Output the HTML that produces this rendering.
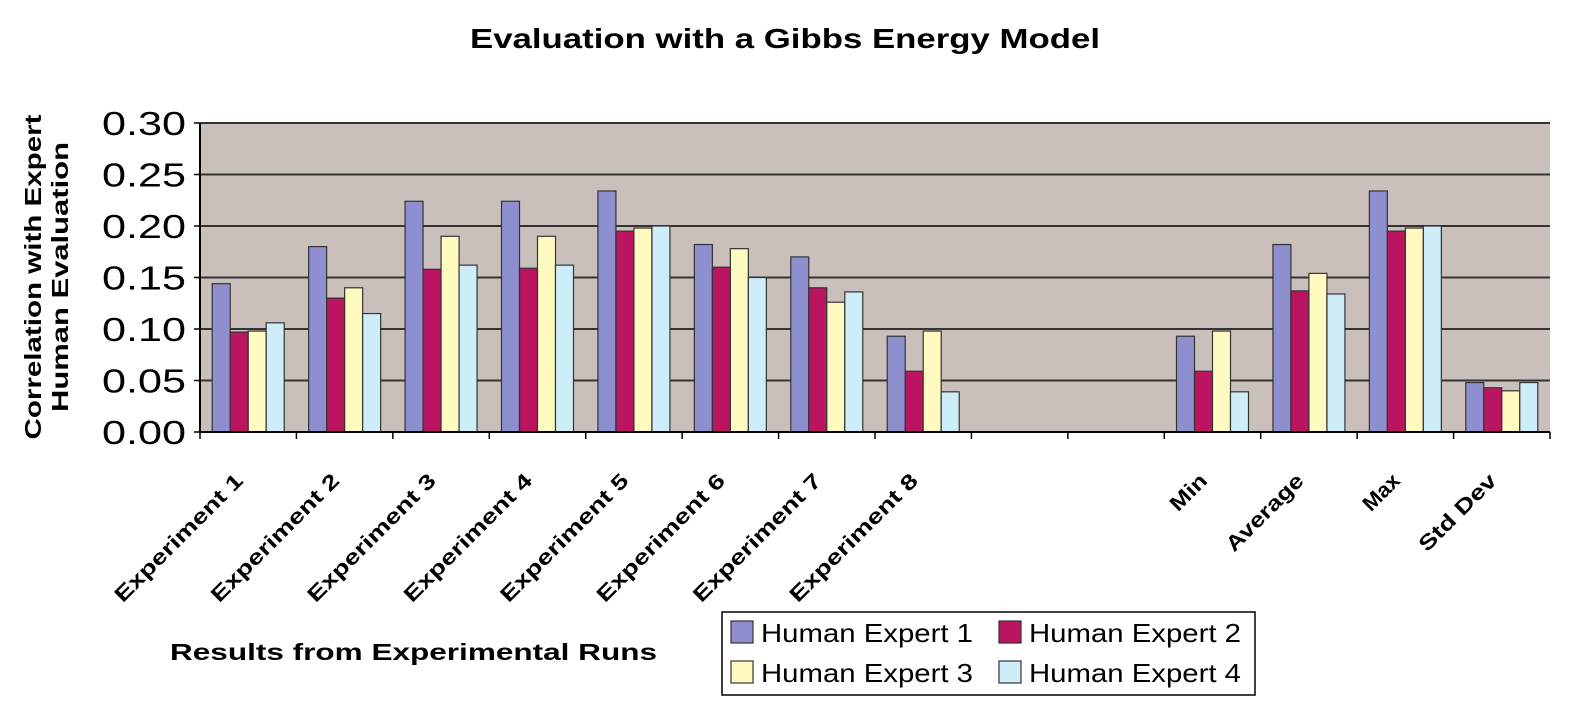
<!DOCTYPE html>
<html><head><meta charset="utf-8"><style>
body{margin:0;background:#fff;}
svg{display:block;font-family:"Liberation Sans",Arial,sans-serif;}
</style></head><body>
<svg id="chart" width="1595" height="713" viewBox="0 0 1595 713">
<text x="785" y="48" font-size="28" font-weight="bold" text-anchor="middle" textLength="630" lengthAdjust="spacingAndGlyphs">Evaluation with a Gibbs Energy Model</text>
<rect x="200" y="123" width="1350" height="309" fill="#c9c0bb"/>
<g id="grid"></g><g id="bars"></g><g id="axes"></g>
<g transform="translate(45,277) rotate(-90)">
<text x="0" y="-4" font-size="23" font-weight="bold" text-anchor="middle" textLength="325" lengthAdjust="spacingAndGlyphs">Correlation with Expert</text>
<text x="0" y="23" font-size="23" font-weight="bold" text-anchor="middle" textLength="270" lengthAdjust="spacingAndGlyphs">Human Evaluation</text>
</g>
<text x="170" y="660" font-size="23" font-weight="bold" textLength="487" lengthAdjust="spacingAndGlyphs">Results from Experimental Runs</text>
<g id="legend"></g>
</svg>
<script>
const categories=["Experiment 1","Experiment 2","Experiment 3","Experiment 4","Experiment 5","Experiment 6","Experiment 7","Experiment 8","","","Min","Average","Max","Std Dev"];
const seriesNames=["Human Expert 1","Human Expert 2","Human Expert 3","Human Expert 4"];
const expert1=[0.144,0.180,0.224,0.224,0.234,0.182,0.170,0.093,null,null,0.093,0.182,0.234,0.048];
const expert2=[0.097,0.130,0.158,0.159,0.195,0.160,0.140,0.059,null,null,0.059,0.137,0.195,0.043];
const expert3=[0.098,0.140,0.190,0.190,0.198,0.178,0.126,0.098,null,null,0.098,0.154,0.198,0.040];
const expert4=[0.106,0.115,0.162,0.162,0.200,0.150,0.136,0.039,null,null,0.039,0.134,0.200,0.048];
const yTicks=[0,0.05,0.10,0.15,0.20,0.25,0.30];
const colors=["#8f8fd0","#bb1562","#fffac0","#cdeef8"];
const NS="http://www.w3.org/2000/svg";
const L=200,R=1550,T=123,B=432,yMax=0.30;
const slot=(R-L)/categories.length;
const y=v=>B-(v/yMax)*(B-T);
const xs=i=>L+i*slot;
function mk(tag,attrs,parent){const e=document.createElementNS(NS,tag);for(const k in attrs)e.setAttribute(k,attrs[k]);parent.appendChild(e);return e;}
const grid=document.getElementById('grid'),bars=document.getElementById('bars'),axes=document.getElementById('axes');
yTicks.forEach(t=>{
 const g=mk('line',{x1:L,x2:R,y1:y(t),y2:y(t),stroke:"#333",'stroke-width':2},grid);
 
 
 const tk=mk('line',{x1:L-6,x2:L,y1:y(t),y2:y(t),stroke:"#000",'stroke-width':1.5},axes);
 
 
 const lb=mk('text',{x:L-14,y:y(t)+12,'font-size':33,'text-anchor':'end',textLength:84,lengthAdjust:'spacingAndGlyphs'},axes);
 lb.textContent=t.toFixed(2);
 
 
});
const series=[expert1,expert2,expert3,expert4];
const bw=18,pad=(slot-4*bw)/2;
categories.forEach((c,i)=>{
 series.forEach((s,k)=>{
  const v=s[i]; if(v==null)return;
  const r=mk('rect',{x:xs(i)+pad+k*bw,y:y(v),width:bw,height:B-y(v),fill:colors[k],stroke:"#333",'stroke-width':1.2},bars);
  
  
 });
 const tk=mk('line',{x1:xs(i),x2:xs(i),y1:B,y2:B+7,stroke:"#000",'stroke-width':1.5},axes);
 
 
 if(c){
  const cx=xs(i)+slot/2-4,cy=B+50;
  const lb=mk('text',{x:cx,y:cy,'font-size':21,'font-weight':'bold','text-anchor':'end',transform:`rotate(-45 ${cx} ${cy})`},axes);
  lb.textContent=c;
  lb.setAttribute('textLength',String(c.length*14.3));
  lb.setAttribute('lengthAdjust','spacingAndGlyphs');
  
  
 }
});
const lastTk=mk('line',{x1:R,x2:R,y1:B,y2:B+7,stroke:"#000",'stroke-width':1.5},axes);


const ax=mk('line',{x1:L,x2:R,y1:B,y2:B,stroke:"#000",'stroke-width':2},axes);


const ay=mk('line',{x1:L,x2:L,y1:T,y2:B,stroke:"#000",'stroke-width':2},axes);


const leg=document.getElementById('legend');
const box=mk('rect',{x:722,y:612,width:533,height:83,fill:"#fff",stroke:"#000",'stroke-width':1.5},leg);


seriesNames.forEach((n,k)=>{
 const col=k%2,row=Math.floor(k/2);
 const lx=731+col*268,ly=621+row*40;
 const sw=mk('rect',{x:lx,y:ly,width:22,height:22,fill:colors[k],stroke:"#333",'stroke-width':1.2},leg);
 
 
 const t=mk('text',{x:lx+30,y:ly+21,'font-size':26,textLength:212,lengthAdjust:'spacingAndGlyphs'},leg);
 t.textContent=n;
 
 
});
</script>
</body></html>
